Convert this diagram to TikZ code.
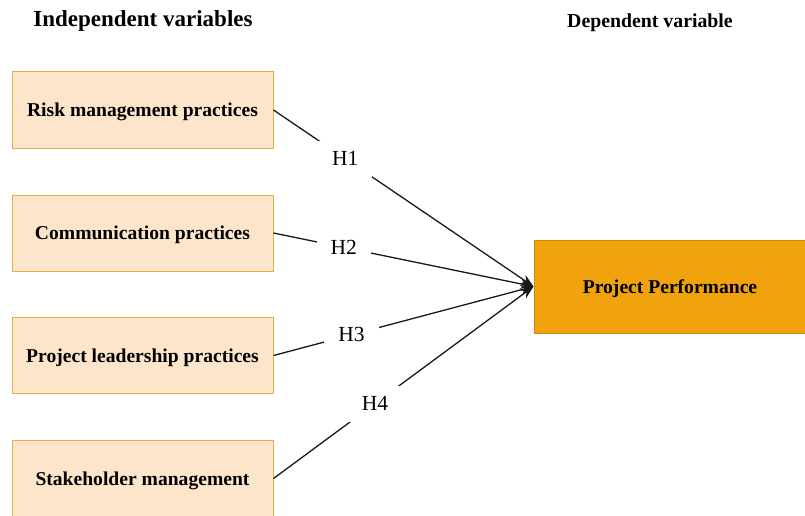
\documentclass[tikz,border=0pt]{standalone}
\usepackage{fontspec}
\setmainfont{Liberation Serif}
\usetikzlibrary{arrows.meta}
\definecolor{ivfill}{RGB}{253,229,204}
\definecolor{ivdraw}{RGB}{228,176,70}
\definecolor{dvfill}{RGB}{240,163,12}
\definecolor{dvdraw}{RGB}{205,135,10}
\tikzset{
  ivbox/.style={draw=ivdraw, fill=ivfill, line width=1pt, minimum width=261pt,
    minimum height=76pt, inner sep=0pt, text depth=0pt,
    font=\fontsize{19.6}{22}\selectfont\bfseries},
  dvbox/.style={draw=dvdraw, fill=dvfill, line width=1pt, minimum width=272pt,
    minimum height=93pt, inner sep=0pt, text depth=0pt,
    font=\fontsize{19.6}{22}\selectfont\bfseries},
  heading/.style={font=\fontsize{23}{26}\selectfont\bfseries},
  subheading/.style={font=\fontsize{19.8}{22}\selectfont\bfseries},
  hyp/.style={fill=white, inner xsep=14pt, inner ysep=11pt, font=\fontsize{21.5}{24}\selectfont},
  link/.style={draw=black!90, line width=1.3pt, -{Stealth[length=13pt,width=10pt]}}
}
\begin{document}
\begin{tikzpicture}[x=1pt,y=1pt]
  \useasboundingbox (0,0) rectangle (805,-516);
  \clip (0,0) rectangle (805,-516);

  % headings
  \node[heading] (hind) at (143,-21) {Independent variables};
  \node[subheading] (hdep) at (650,-23) {Dependent variable};

  % independent variables
  \node[ivbox] (risk) at (142.5,-110) {Risk management practices};
  \node[ivbox] (comm) at (142.5,-233) {Communication practices};
  \node[ivbox] (lead) at (142.5,-355.5) {Project leadership practices};
  \node[ivbox] (stak) at (142.5,-478.5) {Stakeholder management};

  % dependent variable
  \node[dvbox] (perf) at (670,-286.5) {Project Performance};

  % hypotheses
  \draw[link] (risk.east) -- node[hyp, pos=0.276] (h1) {H1} (perf.west);
  \draw[link] (comm.east) -- node[hyp, pos=0.27] (h2) {H2} (perf.west);
  \draw[link] (lead.east) -- node[hyp, pos=0.30] (h3) {H3} (perf.west);
  \draw[link] (stak.east) -- node[hyp, pos=0.39] (h4) {H4} (perf.west);
\end{tikzpicture}
\end{document}
